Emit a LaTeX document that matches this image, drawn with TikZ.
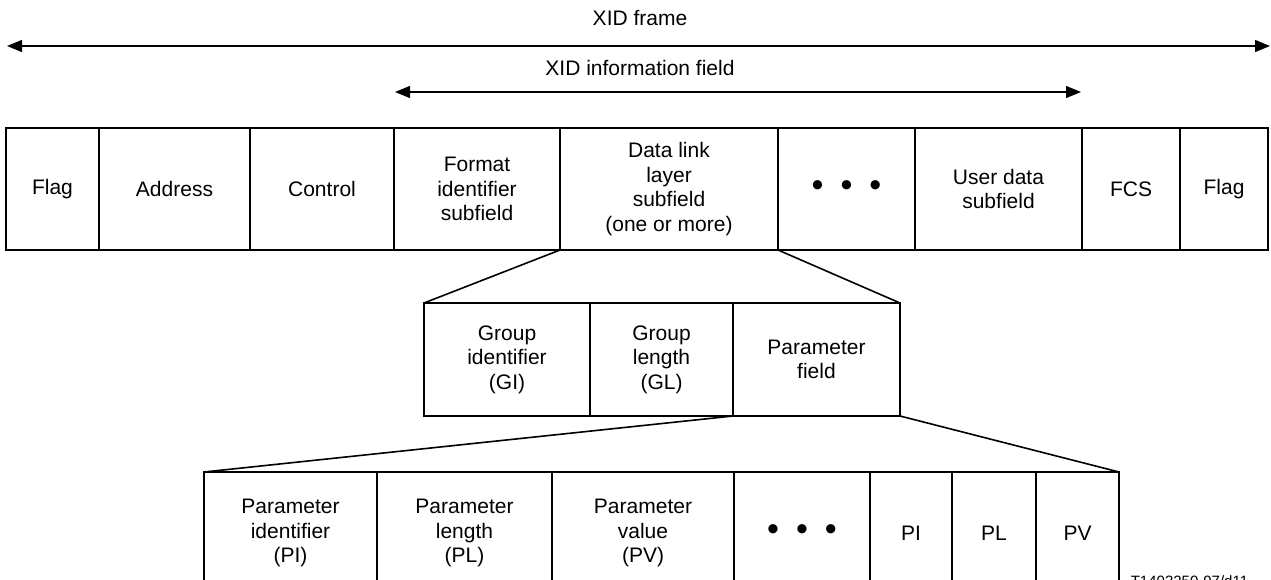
\documentclass[tikz,border=0pt]{standalone}
\usepackage{fontspec}
\setmainfont{Liberation Sans}
\usetikzlibrary{positioning,arrows.meta}
\tikzset{field/.style={draw, minimum height=122pt, inner sep=0pt, outer sep=0pt, align=center},
span/.style={line width=1.4pt, {Triangle[length=15pt,width=12pt]}-{Triangle[length=15pt,width=12pt]}}}
\newcommand{\threedots}{{\fontsize{34}{34}\selectfont\textbullet\hspace{17pt}\textbullet\hspace{17pt}\textbullet}}

\begin{document}
\begin{tikzpicture}[x=1pt, y=-1pt, line width=1.6pt, font=\fontsize{21}{24.5}\selectfont]

\useasboundingbox (0,0) rectangle (1271,580);

% top row: the XID frame
\node[field, minimum width=93pt, anchor=north west] (flagA) at (6,128) {Flag};
\node[field, minimum width=151pt, right=0pt of flagA] (addr) {Address};
\node[field, minimum width=144pt, right=0pt of addr] (ctrl) {Control};
\node[field, minimum width=166pt, right=0pt of ctrl] (fmt) {Format\\identifier\\subfield};
\node[field, minimum width=218pt, right=0pt of fmt] (dll) {Data link\\layer\\subfield\\(one or more)};
\node[field, minimum width=137pt, right=0pt of dll] (dotsA) {\threedots};
\node[field, minimum width=167pt, right=0pt of dotsA] (user) {User data\\subfield};
\node[field, minimum width=98pt, right=0pt of user] (fcs) {FCS};
\node[field, minimum width=88pt, right=0pt of fcs] (flagB) {Flag};

% middle row
\node[field, minimum width=166pt, minimum height=113pt, anchor=north west] (gi) at (424,303) {Group\\identifier\\(GI)};
\node[field, minimum width=143pt, minimum height=113pt, right=0pt of gi] (gl) {Group\\length\\(GL)};
\node[field, minimum width=167pt, minimum height=113pt, right=0pt of gl] (pf) {Parameter\\field};

% bottom row
\node[field, minimum width=173pt, anchor=north west] (pid) at (204,472) {Parameter\\identifier\\(PI)};
\node[field, minimum width=175pt, right=0pt of pid] (plen) {Parameter\\length\\(PL)};
\node[field, minimum width=182pt, right=0pt of plen] (pval) {Parameter\\value\\(PV)};
\node[field, minimum width=136pt, right=0pt of pval] (dotsB) {\threedots};
\node[field, minimum width=82pt, right=0pt of dotsB] (pi) {PI};
\node[field, minimum width=84pt, right=0pt of pi] (pl) {PL};
\node[field, minimum width=83pt, right=0pt of pl] (pv) {PV};

% funnels
\draw (dll.south west) -- (gi.north west);
\draw (dll.south east) -- (pf.north east);
\draw (pf.south west) -- (pid.north west);
\draw (pf.south east) -- (pv.north east);

% spans
\coordinate (frameL) at (7,46);
\coordinate (frameR) at (1270,46);
\coordinate (infoL) at (395,92);
\coordinate (infoR) at (1081,92);
\draw[span] (frameL) -- (frameR);
\draw[span] (infoL) -- (infoR);
\node (frameT) at (640,18) {XID frame};
\node (infoT) at (640,68) {XID information field};

\node[anchor=north west, inner sep=0pt, font=\fontsize{15}{18}\selectfont] (tag) at (1130,575) {T1403250-97/d11};

\end{tikzpicture}
\end{document}
